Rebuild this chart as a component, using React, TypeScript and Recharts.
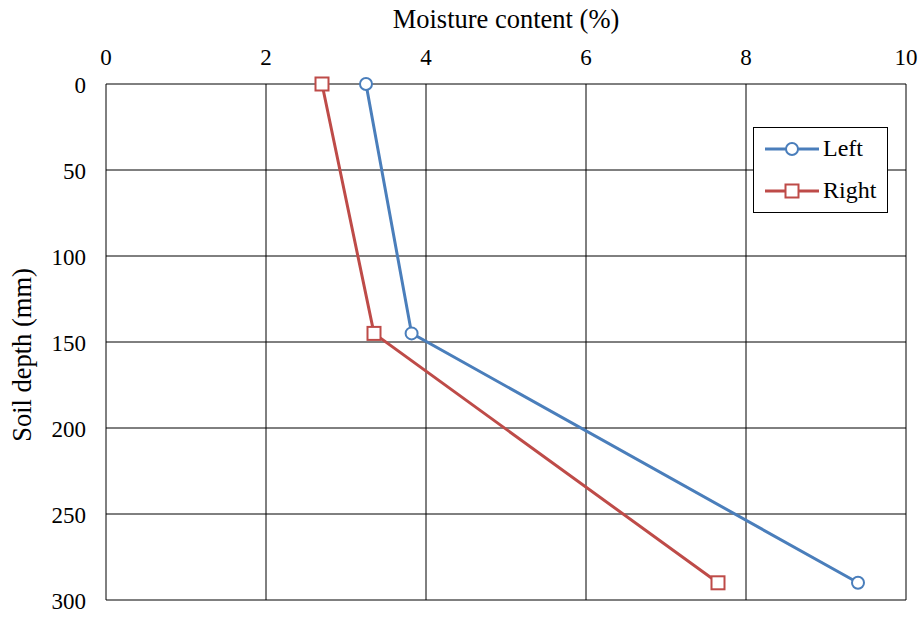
import React from 'react';
import { ScatterChart, Scatter, XAxis, YAxis, CartesianGrid } from 'recharts';

const depths = [0, 145, 290];
const leftMoisture = [3.25, 3.82, 9.4];
const rightMoisture = [2.7, 3.35, 7.65];
const xTicks = [0, 2, 4, 6, 8, 10];
const yTicks = [0, 50, 100, 150, 200, 250, 300];
const seriesNames = ['Left', 'Right'];

const BLUE = '#4A7EBB';
const RED = '#BE4B48';
const FONT = "'Liberation Serif', 'Times New Roman', serif";
const FS = 23;
const TITLE_FS = 26.5;
const LEGEND_FS = 24;

const leftData = depths.map((d, i) => ({ x: leftMoisture[i], y: d }));
const rightData = depths.map((d, i) => ({ x: rightMoisture[i], y: d }));

const CircleMarker = (props: any) => {
  const { cx, cy } = props;
  return <circle cx={cx} cy={cy} r={6} fill="#fff" stroke={BLUE} strokeWidth={2} />;
};
const SquareMarker = (props: any) => {
  const { cx, cy } = props;
  return <rect x={cx - 6.5} y={cy - 6.5} width={13} height={13} fill="#fff" stroke={RED} strokeWidth={2} />;
};

const XTick = (props: any) => {
  const { x, y, payload } = props;
  return (
    <text x={x} y={y} textAnchor="middle" fontFamily={FONT} fontSize={FS} fill="#000">
      {payload.value}
    </text>
  );
};
const YTick = (props: any) => {
  const { x, y, payload } = props;
  return (
    <text x={x} y={y} dy="0.38em" textAnchor="end" fontFamily={FONT} fontSize={FS} fill="#000">
      {payload.value}
    </text>
  );
};

const LegendBox = () => (
  <svg width={135} height={86} style={{ display: 'block' }}>
    <rect x={0.5} y={0.5} width={134} height={85} fill="#fff" stroke="#000" strokeWidth={1} />
    <line x1={12} y1={22} x2={66} y2={22} stroke={BLUE} strokeWidth={3} />
    <circle cx={39} cy={22} r={6} fill="#fff" stroke={BLUE} strokeWidth={2} />
    <text x={70} y={29} fontFamily={FONT} fontSize={LEGEND_FS} fill="#000">{seriesNames[0]}</text>
    <line x1={12} y1={64} x2={66} y2={64} stroke={RED} strokeWidth={3} />
    <rect x={32.5} y={57.5} width={13} height={13} fill="#fff" stroke={RED} strokeWidth={2} />
    <text x={70} y={71} fontFamily={FONT} fontSize={LEGEND_FS} fill="#000">{seriesNames[1]}</text>
  </svg>
);

export default function App() {
  return (
    <div style={{ position: 'absolute', left: 0, top: 0, width: 922, height: 617, background: '#fff' }}>
      <ScatterChart width={922} height={617} margin={{ top: 0, right: 16, bottom: 17, left: 0 }}>
        <CartesianGrid stroke="#000" strokeWidth={1} />
        <XAxis
          type="number"
          dataKey="x"
          orientation="top"
          domain={[0, 10]}
          ticks={xTicks}
          height={84}
          tickLine={false}
          axisLine={false}
          tickSize={0}
          tickMargin={19}
          tick={<XTick />}
          label={{
            content: (p: any) => {
              const vb = p.viewBox || {};
              return (
                <text x={vb.x + vb.width / 2} y={28} textAnchor="middle" fontFamily={FONT} fontSize={TITLE_FS} fill="#000">
                  Moisture content (%)
                </text>
              );
            },
          }}
        />
        <YAxis
          type="number"
          dataKey="y"
          domain={[0, 300]}
          ticks={yTicks}
          reversed
          width={106}
          tickLine={false}
          axisLine={false}
          tickSize={0}
          tickMargin={20}
          tick={<YTick />}
          label={{
            content: (p: any) => {
              const vb = p.viewBox || {};
              const cx = 21.5;
              const cy = vb.y + vb.height / 2 + 13;
              return (
                <text
                  x={cx}
                  y={cy}
                  transform={`rotate(-90 ${cx} ${cy})`}
                  textAnchor="middle"
                  dominantBaseline="central"
                  fontFamily={FONT}
                  fontSize={TITLE_FS}
                  fill="#000"
                >
                  Soil depth (mm)
                </text>
              );
            },
          }}
        />
        <Scatter
          name={seriesNames[0]}
          data={leftData}
          line={{ stroke: BLUE, strokeWidth: 3 }}
          lineJointType="linear"
          shape={<CircleMarker />}
          isAnimationActive={false}
        />
        <Scatter
          name={seriesNames[1]}
          data={rightData}
          line={{ stroke: RED, strokeWidth: 3 }}
          lineJointType="linear"
          shape={<SquareMarker />}
          isAnimationActive={false}
        />
      </ScatterChart>
      <div style={{ position: 'absolute', left: 753, top: 127 }}>
        <LegendBox />
      </div>
    </div>
  );
}
